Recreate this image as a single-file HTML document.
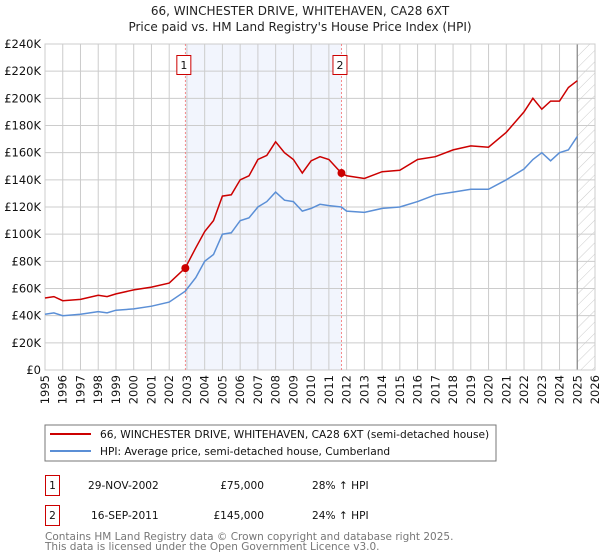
<!DOCTYPE html>
<html><head><meta charset="utf-8"><style>
body{margin:0;background:#fff;font-family:"DejaVu Sans","Liberation Sans",sans-serif;}
svg{display:block}
</style></head><body>
<svg id="c" width="600" height="560" font-family="DejaVu Sans, Liberation Sans, sans-serif">
<defs><pattern id="hatch" width="8" height="8" patternUnits="userSpaceOnUse" patternTransform="rotate(45)"><line x1="0" y1="0" x2="0" y2="8" stroke="#ccc" stroke-width="1"/></pattern></defs>
<text x="300" y="15" text-anchor="middle" font-size="12" fill="#222">66, WINCHESTER DRIVE, WHITEHAVEN, CA28 6XT</text>
<text x="300" y="31" text-anchor="middle" font-size="12" fill="#222">Price paid vs. HM Land Registry's House Price Index (HPI)</text>
<g id="plot"></g>
<rect x="45" y="425" width="451" height="36" fill="#fff" stroke="#777"/>
<line x1="50" y1="434" x2="91" y2="434" stroke="#cc0000" stroke-width="2"/>
<text x="100" y="438" font-size="10.6" fill="#111">66, WINCHESTER DRIVE, WHITEHAVEN, CA28 6XT (semi-detached house)</text>
<line x1="50" y1="451" x2="91" y2="451" stroke="#5b8fd6" stroke-width="2"/>
<text x="100" y="455" font-size="10.6" fill="#111">HPI: Average price, semi-detached house, Cumberland</text>
<g font-size="10.6" fill="#111">
<rect x="45.5" y="475.5" width="14" height="20" fill="#fff" stroke="#cc0000"/>
<text x="52.5" y="489" text-anchor="middle">1</text>
<text x="88" y="489">29-NOV-2002</text>
<text x="264" y="489" text-anchor="end">£75,000</text>
<text x="312" y="489">28% ↑ HPI</text>
<rect x="45.5" y="505.5" width="14" height="20" fill="#fff" stroke="#cc0000"/>
<text x="52.5" y="519" text-anchor="middle">2</text>
<text x="91" y="519">16-SEP-2011</text>
<text x="264" y="519" text-anchor="end">£145,000</text>
<text x="312" y="519">24% ↑ HPI</text>
</g>
<text x="45" y="540" font-size="10.5" fill="#777">Contains HM Land Registry data © Crown copyright and database right 2025.</text>
<text x="45" y="550" font-size="10.5" fill="#777">This data is licensed under the Open Government Licence v3.0.</text>
</svg>
<script>
const hpiYears=[1995,1995.5,1996,1997,1998,1998.5,1999,2000,2001,2002,2002.9,2003.5,2004,2004.5,2005,2005.5,2006,2006.5,2007,2007.5,2008,2008.5,2009,2009.5,2010,2010.5,2011,2011.7,2012,2013,2014,2015,2016,2017,2018,2019,2020,2021,2022,2022.5,2023,2023.5,2024,2024.5,2025];
const hpiValues=[41,42,40,41,43,42,44,45,47,50,58,68,80,85,100,101,110,112,120,124,131,125,124,117,119,122,121,120,117,116,119,120,124,129,131,133,133,140,148,155,160,154,160,162,172];
const priceValues=[53,54,51,52,55,54,56,59,61,64,75,90,102,110,128,129,140,143,155,158,168,160,155,145,154,157,155,145,143,141,146,147,155,157,162,165,164,175,190,200,192,198,198,208,213];
const sales=[{n:"1",t:2002.91,v:75},{n:"2",t:2011.71,v:145}];
const yTicks=[0,20,40,60,80,100,120,140,160,180,200,220,240];
const xTicks=[1995,1996,1997,1998,1999,2000,2001,2002,2003,2004,2005,2006,2007,2008,2009,2010,2011,2012,2013,2014,2015,2016,2017,2018,2019,2020,2021,2022,2023,2024,2025,2026];
const X0=45,X1=595,Y0=370,Y1=44;
const xs=t=>X0+(t-1995)/(2026-1995)*(X1-X0);
const ys=v=>Y0-v/240*(Y0-Y1);
const NS="http://www.w3.org/2000/svg",g=document.getElementById('plot');
function mk(tag,a,name){const e=document.createElementNS(NS,tag);for(const k in a)e.setAttribute(k,a[k]);


g.appendChild(e);return e;}
mk('rect',{x:xs(sales[0].t),y:Y1,width:xs(sales[1].t)-xs(sales[0].t),height:Y0-Y1,fill:'#f2f5fd'},'shaded-period');
mk('rect',{x:xs(2025),y:Y1,width:X1-xs(2025),height:Y0-Y1,fill:'url(#hatch)'},'forecast-hatch');
yTicks.forEach(v=>{mk('line',{x1:X0,x2:X1,y1:ys(v),y2:ys(v),stroke:'#ccc'},'y-gridline');
const t=mk('text',{x:X0-4,y:ys(v)+4,'text-anchor':'end','font-size':11.5,fill:'#111'},'y-tick-label');t.textContent=v?'£'+v+'K':'£0';});
xTicks.forEach(v=>{mk('line',{x1:xs(v),x2:xs(v),y1:Y1,y2:Y0,stroke:'#ccc'},'x-gridline');
const t=mk('text',{x:0,y:0,'text-anchor':'end','font-size':11.5,fill:'#111',transform:`translate(${xs(v)+4},${Y0+5}) rotate(-90)`},'x-tick-label');t.textContent=v;});
mk('line',{x1:xs(2025),x2:xs(2025),y1:Y1,y2:Y0,stroke:'#888','stroke-width':1.2},'data-end-line');
mk('rect',{x:X0,y:Y1,width:X1-X0,height:Y0-Y1,fill:'none',stroke:'#ccc'},'plot-frame');
sales.forEach(s=>{mk('line',{x1:xs(s.t),x2:xs(s.t),y1:Y1,y2:Y0,stroke:'#f47070','stroke-width':0.8,'stroke-dasharray':'2,2'},'sale-marker-line');
mk('rect',{x:xs(s.t)-8.5,y:55.5,width:14,height:19,fill:'#fff',stroke:'#cc0000'},'sale-label-box');
const t=mk('text',{x:xs(s.t)-1.5,y:69,'text-anchor':'middle','font-size':11,fill:'#111'},'sale-label');t.textContent=s.n;});
const path=(vals)=>vals.map((v,i)=>(i?'L':'M')+xs(hpiYears[i]).toFixed(1)+','+ys(v).toFixed(1)).join('');
mk('path',{d:path(hpiValues),fill:'none',stroke:'#5b8fd6','stroke-width':1.5},'hpi-line');
mk('path',{d:path(priceValues),fill:'none',stroke:'#cc0000','stroke-width':1.5},'price-line');
sales.forEach(s=>mk('circle',{cx:xs(s.t),cy:ys(s.v),r:4,fill:'#cc0000'},'sale-point'));
</script>
</body></html>
